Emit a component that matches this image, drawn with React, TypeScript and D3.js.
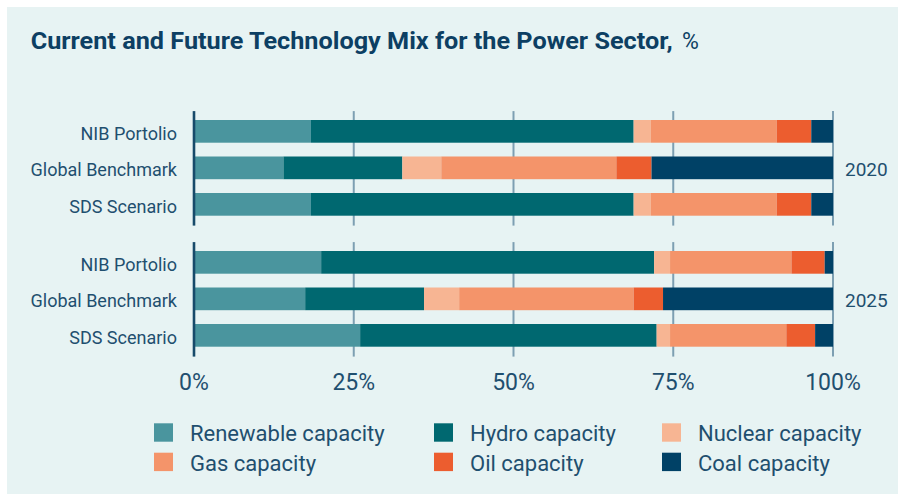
import React from 'react';
import * as d3 from 'd3';

const categories = ['NIB Portolio', 'Global Benchmark', 'SDS Scenario'];
const years = ['2020', '2025'];
const seriesNames = [
  'Renewable capacity',
  'Hydro capacity',
  'Nuclear capacity',
  'Gas capacity',
  'Oil capacity',
  'Coal capacity',
];
const seriesColors = ['#4a959e', '#006870', '#f7b593', '#f4946a', '#ec5d2f', '#004166'];

// row order: 2020 NIB, 2020 Global, 2020 SDS, 2025 NIB, 2025 Global, 2025 SDS
const renewable = [18.3, 14.0, 18.3, 19.9, 17.4, 26.0];
const hydro = [50.5, 18.6, 50.5, 52.1, 18.6, 46.4];
const nuclear = [2.7, 6.1, 2.7, 2.5, 5.5, 2.1];
const gas = [19.7, 27.4, 19.7, 19.0, 27.3, 18.2];
const oil = [5.4, 5.5, 5.4, 5.2, 4.6, 4.5];
const coal = [3.4, 28.4, 3.4, 1.3, 26.6, 2.8];

const tickValues = [0, 25, 50, 75, 100];
const tickLabels = ['0%', '25%', '50%', '75%', '100%'];

const W = 898;
const H = 494;
const FONT = 'Roboto, "Noto Sans", sans-serif';
const TEXT = '#1f4f6f';

export default function App() {
  const seriesArrays = [renewable, hydro, nuclear, gas, oil, coal];
  const rows = years.flatMap((yr, gi) =>
    categories.map((cat, ci) => {
      const i = gi * categories.length + ci;
      const r: any = { year: yr, cat };
      seriesNames.forEach((s, si) => (r[s] = seriesArrays[si][i]));
      return r;
    })
  );
  const stack = d3.stack<any>().keys(seriesNames);
  const stacked = stack(rows);

  const x = d3.scaleLinear().domain([0, 100]).range([194, 833]);
  const yGroup = d3.scaleBand<string>().domain(years).range([113.1, 113.1 + 2 * 131]).padding(0);
  const groupH = 109.5;
  const yCat = d3
    .scaleBand<string>()
    .domain(categories)
    .range([0, groupH])
    .paddingInner(0.378)
    .paddingOuter(0.189);
  const bw = yCat.bandwidth();
  const rowY = (d: any) => (yGroup(d.year) as number) + (yCat(d.cat) as number);

  const legendX = [154, 434, 662];
  const legendY = [423.3, 452.7];

  return (
    <svg
      width={W}
      height={H}
      style={{ position: 'absolute', left: 0, top: 0, background: '#fff' }}
      fontFamily={FONT}
    >
      <rect x={7} y={7} width={W - 7} height={H - 7} fill="#e7f3f3" />
      <text
        x={30.7}
        y={48.8}
        fontSize={23.5}
        fontWeight={700}
        fill="#0d3f63"
        textLength={642}
        lengthAdjust="spacingAndGlyphs"
      >
        Current and Future Technology Mix for the Power Sector,
      </text>
      <text x={682} y={48.8} fontSize={23} fontWeight={400} fill="#0d3f63">
        %
      </text>

      {years.map((yr) => {
        const g0 = yGroup(yr) as number;
        return (
          <g key={yr}>
            {tickValues
              .filter((t) => t > 0)
              .map((t) => (
                <line
                  key={t}
                  x1={x(t)}
                  x2={x(t)}
                  y1={g0 - 2}
                  y2={g0 + groupH + 3}
                  stroke="#7d9fb2"
                  strokeWidth={2}
                />
              ))}
          </g>
        );
      })}

      {stacked.map((layer, si) => (
        <g key={layer.key} fill={seriesColors[si]}>
          {layer.map((seg, i) => (
            <rect
              key={i}
              x={x(seg[0])}
              y={rowY(seg.data)}
              width={x(seg[1]) - x(seg[0])}
              height={bw}
            />
          ))}
        </g>
      ))}

      {years.map((yr) => {
        const g0 = yGroup(yr) as number;
        return (
          <g key={yr}>
            <line
              x1={x(0)}
              x2={x(0)}
              y1={g0 - 2}
              y2={g0 + groupH + 3}
              stroke="#174a6a"
              strokeWidth={2.6}
            />
            {categories.map((c) => (
              <text
                key={c}
                x={177}
                y={g0 + (yCat(c) as number) + bw / 2 + 8.5}
                textAnchor="end"
                fontSize={18}
                fill={TEXT}
              >
                {c}
              </text>
            ))}
            <text
              x={845}
              y={g0 + (yCat(categories[1]) as number) + bw / 2 + 7.8}
              fontSize={19}
              fill={TEXT}
            >
              {yr}
            </text>
          </g>
        );
      })}

      {tickValues.map((t, i) => (
        <text key={t} x={x(t)} y={390} textAnchor="middle" fontSize={23} fill={TEXT}>
          {tickLabels[i]}
        </text>
      ))}

      {seriesNames.map((s, i) => {
        const col = i % 3;
        const row = Math.floor(i / 3);
        return (
          <g key={s}>
            <rect x={legendX[col]} y={legendY[row]} width={19} height={18.4} fill={seriesColors[i]} />
            <text x={legendX[col] + 36} y={legendY[row] + 17.8} fontSize={22} fill={TEXT}>
              {s}
            </text>
          </g>
        );
      })}
    </svg>
  );
}
